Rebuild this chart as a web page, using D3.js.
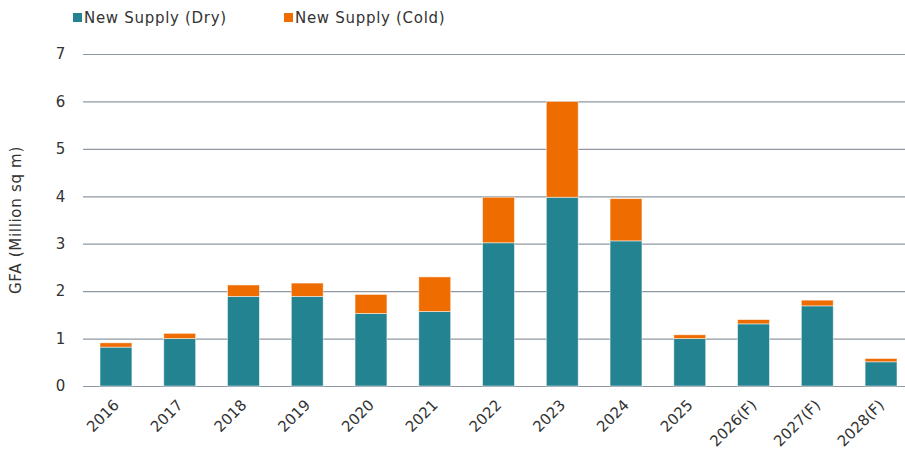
<!DOCTYPE html>
<html>
<head>
<meta charset="utf-8">
<script src="https://cdn.jsdelivr.net/npm/d3@7"></script>
<style>
  body { margin: 0; background: #fff; }
  svg text { font-family: "DejaVu Sans", sans-serif; fill: #333; letter-spacing: 0.7px; }
  .x.axis text { letter-spacing: 0; }
</style>
</head>
<body>
<div id="chart"></div>
<script>
// chart size
const WIDTH = 905;
const HEIGHT = 450;
const MARGIN = { TOP: 54, RIGHT: 0, BOTTOM: 64, LEFT: 83 };

// data
const years = ["2016", "2017", "2018", "2019", "2020", "2021", "2022", "2023", "2024", "2025", "2026(F)", "2027(F)", "2028(F)"];
const drySupply = [0.82, 1.00, 1.89, 1.89, 1.53, 1.57, 3.02, 3.98, 3.06, 1.00, 1.31, 1.69, 0.51];
const coldSupply = [0.09, 0.11, 0.24, 0.28, 0.40, 0.73, 0.96, 2.02, 0.89, 0.08, 0.09, 0.12, 0.07];
const yTicks = [0, 1, 2, 3, 4, 5, 6, 7];
const seriesNames = ["New Supply (Dry)", "New Supply (Cold)"];

const colors = d3.scaleOrdinal()
    .domain(["dry", "cold"])
    .range(["#238391", "#ee6c00"]);

let rows = years.map((y, i) => ({ year: y, dry: drySupply[i], cold: coldSupply[i] }));
let stacked = d3.stack().keys(["dry", "cold"])(rows);

// plot area runs a bit past the right edge of the picture
let xScale = d3.scaleBand()
    .domain(years)
    .range([MARGIN.LEFT, 914])
    .paddingInner(0.5)
    .paddingOuter(0.267);

let yScale = d3.scaleLinear()
    .domain([0, 7])
    .range([HEIGHT - MARGIN.BOTTOM, MARGIN.TOP]);

let svg = d3.select("#chart")
    .append("svg")
    .attr("width", WIDTH)
    .attr("height", HEIGHT);

// gridlines + y labels
let yAxis = d3.axisLeft(yScale)
    .tickValues(yTicks)
    .tickSize(-(WIDTH - MARGIN.RIGHT - MARGIN.LEFT))
    .tickPadding(17)
    .tickFormat(d3.format("d"));

svg.append("g")
    .attr("class", "y axis")
    .attr("transform", "translate(" + MARGIN.LEFT + ",0)")
    .call(yAxis)
    .call(g => g.select(".domain").remove())
    .call(g => g.selectAll("line").attr("stroke", "#8f98a2").attr("stroke-width", 1.2))
    .call(g => g.selectAll("text").attr("font-size", 15).attr("fill", "#333"));

// bars
svg.append("g")
    .selectAll("g")
    .data(stacked)
    .join("g")
    .attr("fill", d => colors(d.key))
    .selectAll("rect")
    .data(d => d)
    .join("rect")
    .attr("x", d => xScale(d.data.year))
    .attr("y", d => yScale(d[1]))
    .attr("width", xScale.bandwidth())
    .attr("height", d => yScale(d[0]) - yScale(d[1]))
    .attr("stroke", "#ffffff")
    .attr("stroke-opacity", 0.6)
    .attr("stroke-width", 0.8);

// x axis labels
let xAxis = d3.axisBottom(xScale)
    .tickSize(0)
    .tickPadding(0);

svg.append("g")
    .attr("class", "x axis")
    .attr("transform", "translate(0," + (HEIGHT - MARGIN.BOTTOM) + ")")
    .call(xAxis)
    .call(g => g.select(".domain").remove())
    .call(g => g.selectAll("text")
        .attr("font-size", 15)
        .attr("fill", "#333")
        .attr("text-anchor", "end")
        .attr("dy", null)
        .attr("y", 0)
        .attr("transform", "translate(4,20) rotate(-45)"));

// y axis title
svg.append("text")
    .attr("transform", "translate(21," + ((HEIGHT - MARGIN.BOTTOM + MARGIN.TOP) / 2) + ") rotate(-90)")
    .attr("text-anchor", "middle")
    .attr("font-size", 15)
    .text("GFA (Million sq m)");

// legend
let legendX = [73, 284];
let legend = svg.append("g")
    .selectAll("g")
    .data(seriesNames)
    .join("g")
    .attr("transform", (d, i) => "translate(" + legendX[i] + ",13)");

legend.append("rect")
    .attr("width", 9)
    .attr("height", 9)
    .attr("fill", (d, i) => colors(["dry", "cold"][i]));

legend.append("text")
    .attr("x", 11)
    .attr("y", 10)
    .attr("font-size", 15)
    .text(d => d);
</script>
</body>
</html>
